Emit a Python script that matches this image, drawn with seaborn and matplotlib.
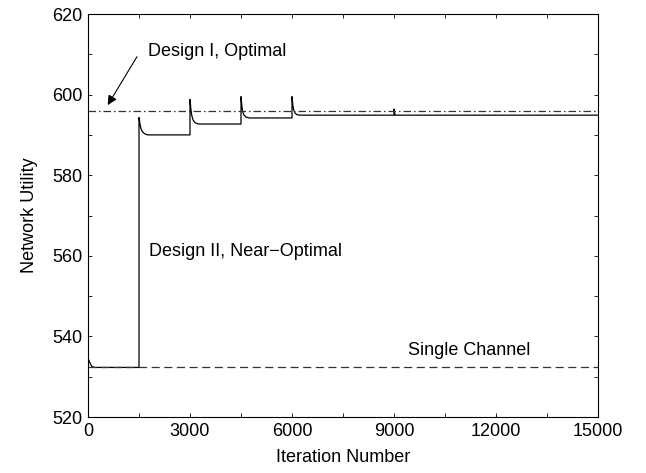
import matplotlib
matplotlib.use("Agg")
import matplotlib.pyplot as plt
import seaborn as sns
import pandas as pd

# values
iters = [0, 40, 80, 120, 200, 1500,
         1500, 1530, 1560, 1600, 1660, 1750, 3000,
         3000, 3025, 3050, 3090, 3150, 3250, 4500,
         4500, 4525, 4550, 4590, 4650, 4750, 6000,
         6000, 6025, 6050, 6090, 6150, 6250, 9000,
         9000, 9030, 15000]
design2 = [534.6, 533.8, 533.0, 532.5, 532.3, 532.3,
           594.3, 592.6, 591.5, 590.8, 590.3, 590.0, 590.0,
           598.8, 596.5, 594.9, 593.7, 593.0, 592.7, 592.7,
           599.5, 597.2, 595.8, 594.9, 594.4, 594.2, 594.2,
           599.5, 597.4, 596.2, 595.4, 595.0, 594.9, 594.9,
           596.4, 594.9, 594.9]
span = [0, 15000]
optimal = [595.9, 595.9]
single = [532.3, 532.3]

sns.set_theme(style="ticks")
plt.rcParams["font.family"] = ["Liberation Sans", "DejaVu Sans"]
plt.rcParams.update({"text.color": "black", "axes.labelcolor": "black",
                     "xtick.color": "black", "ytick.color": "black"})

fig = plt.figure(figsize=(6.46, 4.73), dpi=100)
ax = fig.add_axes([88 / 646, 1 - 417 / 473, 510 / 646, 403 / 473])

df2 = pd.DataFrame({"it": iters, "u": design2})
sns.lineplot(data=df2, x="it", y="u", estimator=None, sort=False,
             color="black", lw=0.9, ax=ax)
sns.lineplot(x=span, y=optimal, estimator=None, color="#333333", lw=0.9,
             ax=ax, linestyle=(0, (6, 2.4, 1.2, 2.4)))
sns.lineplot(x=span, y=single, estimator=None, color="#333333", lw=0.9,
             ax=ax, linestyle=(0, (6.5, 3.6)))

ax.set_xlim(0, 15000)
ax.set_ylim(520, 620)
ax.set_xticks(range(0, 15001, 3000))
ax.set_xticks(range(1500, 15000, 3000), minor=True)
ax.set_yticks(range(520, 621, 20))
ax.set_yticks(range(530, 620, 20), minor=True)
ax.tick_params(which="both", direction="in", top=True, right=True,
               length=3, width=0.6, labelsize=13, pad=4)
for sp in ax.spines.values():
    sp.set_color("black")
    sp.set_linewidth(0.8)

ax.set_xlabel("Iteration Number", fontsize=13, labelpad=7)
ax.set_ylabel("Network Utility", fontsize=13, labelpad=10)

ax.text(1755, 610.6, "Design I, Optimal", fontsize=13, va="center", ha="left")
ax.annotate("", xy=(580, 597.4), xytext=(1440, 609.4),
            arrowprops=dict(arrowstyle="-|>", color="black", lw=0.8,
                            shrinkA=0, shrinkB=0, mutation_scale=14))
ax.text(1800, 561, "Design II, Near\u2212Optimal", fontsize=13,
        va="center", ha="left")
ax.text(9400, 536.6, "Single Channel", fontsize=13, va="center", ha="left")

fig.savefig("out.png", dpi=100, facecolor="white")
